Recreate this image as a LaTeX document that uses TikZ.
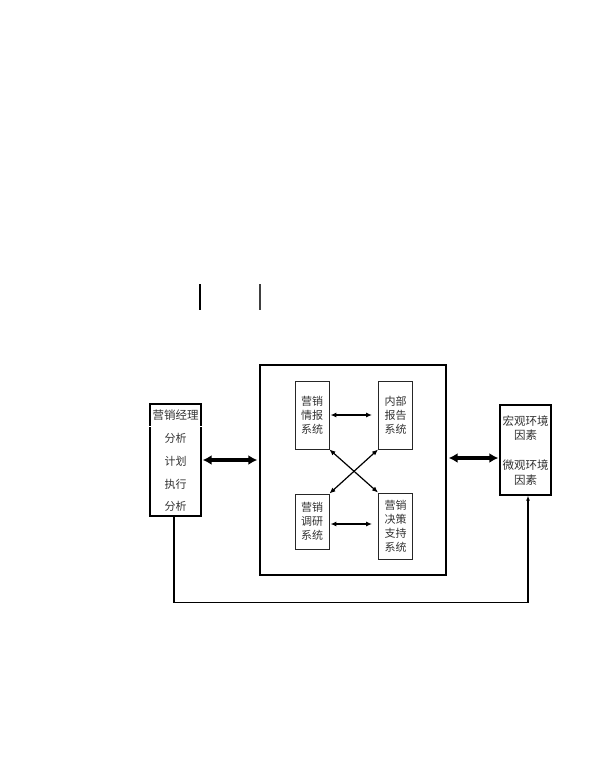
\documentclass[tikz,border=0pt]{standalone}
\usepackage{fontspec}
\setmainfont{Noto Sans CJK SC}
\usetikzlibrary{arrows.meta,calc}
\begin{document}
\begin{tikzpicture}[x=1pt,y=-1pt,
  txt/.style={font=\fontsize{11}{14}\selectfont, text=black!80, align=center, inner sep=0pt},
  inbox/.style={draw=black!85, line width=0.9pt, minimum width=34pt, minimum height=68pt, inner sep=0pt},
  outbox/.style={draw=black, line width=1.4pt, inner sep=0pt},
  thin/.style={line width=1.2pt, {Latex[length=6pt,width=5pt]}-{Latex[length=6pt,width=5pt]}},
  thick/.style={line width=3.5pt, {Latex[length=9pt,width=10pt]}-{Latex[length=9pt,width=10pt]}}
]
\useasboundingbox[fill=white] (0,0) rectangle (600,779);

% top stray vertical lines
\draw[line width=1.3pt] (200,284) -- (200,310);
\draw[line width=1.3pt, black!75] (260,284) -- (260,310);

% big box
\node[outbox, minimum width=186pt, minimum height=210pt] (big) at (353,470) {};

% inner boxes
\node[inbox] (tl) at (312,415) {};
\node[txt] at (tl) {营销\\情报\\系统};
\node[inbox] (tr) at (395.5,415) {};
\node[txt] at (tr) {内部\\报告\\系统};
\node[inbox, minimum height=55pt] (bl) at (312,521.5) {};
\node[txt] at (bl) {营销\\调研\\系统};
\node[inbox, minimum height=66pt] (br) at (395.5,526) {};
\node[txt] at (br) {营销\\决策\\支持\\系统};

\draw[thin] ([xshift=1pt]tl.east) -- ([xshift=-6pt]tr.west);
\draw[thin] ([xshift=1pt]bl.east |- 0,524) -- ([xshift=-6pt]br.west |- 0,524);
\draw[thin] (tl.south east) -- (br.north west);
\draw[thin] (tr.south west) -- (bl.north east);

% left box
\node[outbox, minimum width=51pt, minimum height=112pt] (lbox) at (175.5,460) {};
\node[txt, font=\fontsize{11.5}{13}\selectfont] (lhead) at (175.5,415) {营销经理};
\draw[black!55, double, double distance=0.8pt, line width=0.5pt] (lbox.west |- 0,426.5) -- (lbox.east |- 0,426.5);
\node[txt] (l1) at (175.5,438.5) {分析};
\node[txt] (l2) at (175.5,461.5) {计划};
\node[txt] (l3) at (175.5,484) {执行};
\node[txt] (l4) at (175.5,506) {分析};

% right box
\node[outbox, minimum width=51pt, minimum height=90pt] (rbox) at (525.5,450) {};
\node[txt, font=\fontsize{11.5}{14.5}\selectfont] at (525.5,428) {宏观环境\\因素};
\node[txt, font=\fontsize{11.5}{14.5}\selectfont] at (525.5,472.5) {微观环境\\因素};

% thick arrows
\draw[thick] ([xshift=1pt]lbox.east) -- ([xshift=-2pt]lbox.east -| big.west);
\draw[thick] ([xshift=2pt]big.east |- 0,458) -- ([xshift=-1pt]rbox.west |- 0,458);

% feedback line
\coordinate (fbL) at ([xshift=-1.5pt]lbox.south);
\coordinate (fbR) at ([xshift=2.5pt]rbox.south);
\draw[line width=1.2pt, -{Latex[length=5pt,width=4pt]}] (fbL) -- (fbL |- 0,602.5) -| (fbR);
\end{tikzpicture}
\end{document}
